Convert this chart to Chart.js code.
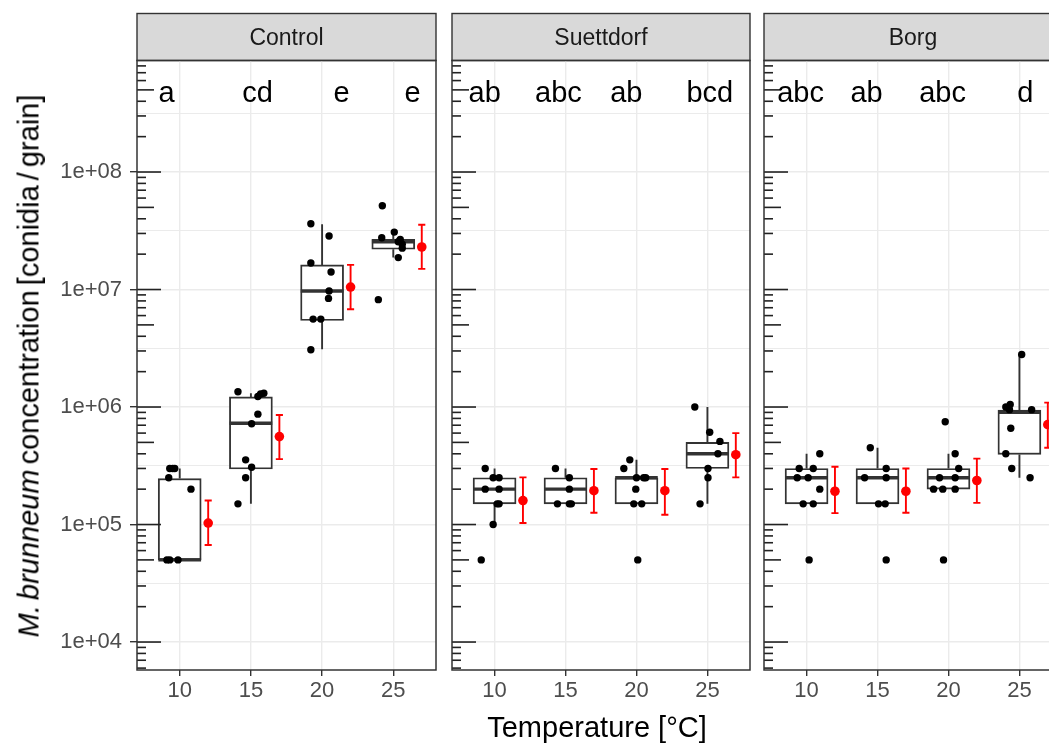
<!DOCTYPE html>
<html>
<head>
<meta charset="utf-8">
<script src="https://cdn.jsdelivr.net/npm/chart.js@4.4.1/dist/chart.umd.min.js"></script>
<style>
  html, body { margin: 0; padding: 0; overflow: hidden; background: #ffffff; width: 1049px; height: 746px; }
  canvas { position: absolute; top: 0; }
  .axtitle { position: absolute; white-space: nowrap; font-family: "Liberation Sans", Arial, sans-serif; font-size: 29px; color: #000; line-height: 1; }
  #ytitle { left: 29px; top: 366px; transform: translate(-50%, -50%) rotate(-90deg); word-spacing: -3px; }
  #xtitle { left: 597px; top: 727px; transform: translate(-50%, -50%); }
</style>
</head>
<body>
<canvas id="c0" width="445" height="746" style="left:0px;width:445px;height:746px"></canvas>
<canvas id="c1" width="315" height="746" style="left:445px;width:315px;height:746px"></canvas>
<canvas id="c2" width="320" height="746" style="left:757px;width:320px;height:746px"></canvas>
<div class="axtitle" id="ytitle"><i>M. brunneum</i> concentration [conidia / grain]</div>
<div class="axtitle" id="xtitle">Temperature [°C]</div>
<script>
// ---------------- DATA ----------------
const panelNames = ['Control', 'Suettdorf', 'Borg'];
const temperatures = [10, 15, 20, 25];
const temperatureLabels = ['10', '15', '20', '25'];
const yBreaks = [1e4, 1e5, 1e6, 1e7, 1e8];
const yBreakLabels = ['1e+04', '1e+05', '1e+06', '1e+07', '1e+08'];

// Control: jittered observations (temperature position, conidia / grain)
const controlObsT = [9.3, 9.5, 9.65, 9.23, 10.79, 9.1, 9.3, 9.88,
  14.09, 15.49, 15.68, 15.91, 15.49, 15.05, 14.63, 15.05, 14.63, 14.09,
  19.21, 20.49, 19.21, 20.63, 20.49, 20.45, 19.37, 19.91, 19.21,
  24.23, 25.07, 24.19, 25.49, 25.35, 25.63, 25.63, 25.35, 23.95];
const controlObsV = [3e5, 3e5, 3e5, 2.5e5, 2e5, 5e4, 5e4, 5e4,
  1.35e6, 1.23e6, 1.29e6, 1.31e6, 8.7e5, 7.2e5, 3.55e5, 3.07e5, 2.5e5, 1.5e5,
  3.63e7, 2.85e7, 1.68e7, 1.41e7, 9.7e6, 8.4e6, 5.6e6, 5.6e6, 3.07e6,
  5.16e7, 3.08e7, 2.76e7, 2.67e7, 2.55e7, 2.43e7, 2.25e7, 1.87e7, 8.2e6];
const controlQ1 = [5e4, 2.97e5, 5.45e6, 2.2e7];
const controlMedian = [5e4, 7.27e5, 9.7e6, 2.55e7];
const controlQ3 = [2.46e5, 1.22e6, 1.62e7, 2.67e7];
const controlWhiskerLow = [5e4, 1.5e5, 3.1e6, 1.87e7];
const controlWhiskerHigh = [3e5, 1.31e6, 3.6e7, 3.08e7];
const controlMean = [1.03e5, 5.6e5, 1.05e7, 2.3e7];
const controlErrLow = [6.7e4, 3.6e5, 6.8e6, 1.5e7];
const controlErrHigh = [1.6e5, 8.55e5, 1.62e7, 3.56e7];
const controlLetters = ['a', 'cd', 'e', 'e'];
const controlLetterT = [9.08, 15.47, 21.36, 26.35];

// Suettdorf
const suettdorfObsT = [9.34, 9.9, 10.32, 9.34, 10.32, 10.18, 10.32, 9.9, 9.06,
  14.29, 15.27, 15.27, 14.43, 15.27, 15.41,
  19.53, 19.11, 20.0, 20.51, 20.65, 19.95, 19.81, 20.37, 20.09,
  24.11, 25.16, 25.88, 25.74, 25.04, 25.04, 24.48];
const suettdorfObsV = [3e5, 2.5e5, 2.5e5, 2e5, 2e5, 1.5e5, 1.5e5, 1e5, 5e4,
  3e5, 2.5e5, 2e5, 1.5e5, 1.5e5, 1.5e5,
  3.55e5, 3e5, 2.5e5, 2.5e5, 2.5e5, 2e5, 1.5e5, 1.5e5, 5e4,
  1e6, 6.1e5, 5.1e5, 4e5, 3e5, 2.5e5, 1.5e5];
const suettdorfQ1 = [1.5e5, 1.5e5, 1.5e5, 3e5];
const suettdorfMedian = [2e5, 2e5, 2.5e5, 4e5];
const suettdorfQ3 = [2.5e5, 2.5e5, 2.5e5, 5e5];
const suettdorfWhiskerLow = [1e5, 1.5e5, 1.5e5, 1.5e5];
const suettdorfWhiskerHigh = [3e5, 3e5, 3.55e5, 1e6];
const suettdorfMean = [1.6e5, 1.94e5, 1.94e5, 3.93e5];
const suettdorfErrLow = [1.03e5, 1.26e5, 1.21e5, 2.52e5];
const suettdorfErrHigh = [2.52e5, 2.97e5, 2.97e5, 6e5];
const suettdorfLetters = ['ab', 'abc', 'ab', 'bcd'];
const suettdorfLetterT = [9.3, 14.5, 19.28, 25.17];

// Borg
const borgObsT = [10.93, 9.48, 10.47, 9.34, 10.11, 10.93, 9.76, 10.47, 10.18,
  14.49, 15.61, 14.09, 15.61, 15.07, 15.54, 15.61,
  19.77, 20.47, 20.72, 19.37, 20.47, 18.95, 19.6, 20.47, 19.65,
  25.16, 24.35, 24.04, 24.3, 25.86, 24.39, 24.04, 24.46, 25.75];
const borgObsV = [4e5, 3e5, 3e5, 2.5e5, 2.5e5, 2e5, 1.5e5, 1.5e5, 5e4,
  4.5e5, 3e5, 2.5e5, 2.5e5, 1.5e5, 1.5e5, 5e4,
  7.5e5, 4e5, 3e5, 2.5e5, 2.5e5, 2e5, 2e5, 2e5, 5e4,
  2.8e6, 1.05e6, 1e6, 9.5e5, 9.5e5, 6.6e5, 4e5, 3e5, 2.5e5];
const borgQ1 = [1.5e5, 1.5e5, 2e5, 3.95e5];
const borgMedian = [2.5e5, 2.5e5, 2.5e5, 9.0e5];
const borgQ3 = [3e5, 3e5, 3e5, 9.4e5];
const borgWhiskerLow = [1.5e5, 1.5e5, 2e5, 2.5e5];
const borgWhiskerHigh = [4e5, 4.5e5, 4e5, 2.8e6];
const borgMean = [1.92e5, 1.92e5, 2.37e5, 7.08e5];
const borgErrLow = [1.25e5, 1.26e5, 1.53e5, 4.5e5];
const borgErrHigh = [3.1e5, 3e5, 3.64e5, 1.09e6];
const borgLetters = ['abc', 'ab', 'abc', 'd'];
const borgLetterT = [9.58, 14.23, 19.58, 25.41];

// ---------------- STYLE / LAYOUT ----------------
const FONT = '"Liberation Sans", Arial, sans-serif';
const Y_MIN = Math.pow(10, 3.762);
const Y_MAX = Math.pow(10, 8.949);
const X_MIN = 7, X_MAX = 28;
const LETTER_Y = 4.6e8;
const BOX_HALF = 1.5;     // temperature units
const BOX_PX = 43;
const MEAN_NUDGE = 2;     // temperature units
const CAP_HALF = 0.25;
const STRIP_TOP = 13.5;
const INK = '#333333';
const GRID = '#EBEBEB';

function isDecade(v) {
  const l = Math.log10(v);
  return Math.abs(l - Math.round(l)) < 1e-6;
}

const facetDecor = {
  id: 'facetDecor',
  beforeDraw(chart, args, opts) {
    const { ctx, chartArea: a } = chart;
    ctx.save();
    ctx.fillStyle = '#D9D9D9';
    ctx.fillRect(a.left, STRIP_TOP, a.right - a.left, a.top - STRIP_TOP);
    ctx.strokeStyle = INK;
    ctx.lineWidth = 1.4;
    ctx.strokeRect(a.left, STRIP_TOP, a.right - a.left, a.top - STRIP_TOP);
    ctx.fillStyle = '#1A1A1A';
    ctx.font = '23px ' + FONT;
    ctx.textAlign = 'center';
    ctx.textBaseline = 'middle';
    ctx.fillText(opts.title, (a.left + a.right) / 2, (STRIP_TOP + a.top) / 2 + 2);
    ctx.restore();
  },
  afterDatasetsDraw(chart, args, opts) {
    const { ctx, chartArea: a } = chart;
    const ys = chart.scales.y, xs = chart.scales.x;
    ctx.save();
    // log ticks inside the left edge
    ctx.strokeStyle = '#222222';
    ctx.lineWidth = 1.6;
    const k0 = Math.floor(Math.log10(ys.min)), k1 = Math.ceil(Math.log10(ys.max));
    for (let k = k0; k <= k1; k++) {
      for (let m = 1; m <= 9; m++) {
        const v = m * Math.pow(10, k);
        if (v < ys.min || v > ys.max) continue;
        const y = ys.getPixelForValue(v);
        const len = m === 1 ? 24 : (m === 5 ? 17 : 9);
        ctx.beginPath();
        ctx.moveTo(a.left, y);
        ctx.lineTo(a.left + len, y);
        ctx.stroke();
      }
    }
    // significance letters
    ctx.fillStyle = '#000';
    ctx.font = '29px ' + FONT;
    ctx.textAlign = 'center';
    ctx.textBaseline = 'middle';
    opts.letters.forEach((s, i) => {
      ctx.fillText(s, xs.getPixelForValue(opts.letterT[i]), ys.getPixelForValue(LETTER_Y));
    });
    // panel border
    ctx.strokeStyle = INK;
    ctx.lineWidth = 1.5;
    ctx.strokeRect(a.left, a.top, a.right - a.left, a.bottom - a.top);
    ctx.restore();
  }
};

function buildPanel(canvasId, name, showY, yWidth, padRight, d) {
  const boxes = temperatures.map((t, i) => ({ x: t, y: [d.q1[i], d.q3[i]] }));
  const whiskers = [];
  const medians = [];
  const errs = [];
  temperatures.forEach((t, i) => {
    whiskers.push({ x: t, y: d.lo[i] }, { x: t, y: d.q1[i] }, { x: t, y: null },
                  { x: t, y: d.q3[i] }, { x: t, y: d.hi[i] }, { x: t, y: null });
    medians.push({ x: t - BOX_HALF, y: d.med[i] }, { x: t + BOX_HALF, y: d.med[i] }, { x: t, y: null });
    const xm = t + MEAN_NUDGE;
    errs.push({ x: xm - CAP_HALF, y: d.eHi[i] }, { x: xm + CAP_HALF, y: d.eHi[i] }, { x: xm, y: null },
              { x: xm, y: d.eHi[i] }, { x: xm, y: d.eLo[i] }, { x: xm, y: null },
              { x: xm - CAP_HALF, y: d.eLo[i] }, { x: xm + CAP_HALF, y: d.eLo[i] }, { x: xm, y: null });
  });
  const obs = d.obsT.map((t, i) => ({ x: t, y: d.obsV[i] }));
  const means = temperatures.map((t, i) => ({ x: t + MEAN_NUDGE, y: d.mean[i] }));

  return new Chart(document.getElementById(canvasId), {
    type: 'scatter',
    data: {
      datasets: [
        { type: 'bar', data: boxes, order: 6, backgroundColor: '#ffffff', borderColor: INK,
          borderWidth: 1.9, borderSkipped: false, barThickness: BOX_PX, grouped: false },
        { type: 'line', data: whiskers, order: 5, borderColor: INK, borderWidth: 1.9,
          pointRadius: 0, spanGaps: false, fill: false, tension: 0 },
        { type: 'line', data: medians, order: 4, borderColor: INK, borderWidth: 3.4,
          pointRadius: 0, spanGaps: false, fill: false, tension: 0 },
        { type: 'scatter', data: obs, order: 3, backgroundColor: '#000000', borderWidth: 0,
          pointRadius: 3.7 },
        { type: 'line', data: errs, order: 2, borderColor: '#FF0000', borderWidth: 1.9,
          pointRadius: 0, spanGaps: false, fill: false, tension: 0 },
        { type: 'scatter', data: means, order: 1, backgroundColor: '#FF0000', borderWidth: 0,
          pointRadius: 4.8 }
      ]
    },
    options: {
      responsive: false,
      animation: false,
      events: [],
      layout: { padding: { top: 60.5, bottom: 46, left: 0, right: padRight }, autoPadding: false },
      plugins: {
        legend: { display: false },
        tooltip: { enabled: false },
        facetDecor: { title: name, letters: d.letters, letterT: d.letterT }
      },
      scales: {
        x: {
          type: 'linear', min: X_MIN, max: X_MAX, offset: false, bounds: 'data',
          afterBuildTicks: s => { s.ticks = temperatures.map(v => ({ value: v })); },
          afterFit: s => { s.height = 30; },
          border: { display: false },
          grid: { color: GRID, lineWidth: 1.4, tickColor: INK, tickLength: 6, tickWidth: 1.4, offset: false },
          ticks: { color: '#4D4D4D', font: { family: FONT, size: 22 }, padding: 2, maxRotation: 0, autoSkip: false,
                   callback: (v, i) => temperatureLabels[i] }
        },
        y: {
          type: 'logarithmic', min: Y_MIN, max: Y_MAX, bounds: 'data',
          afterBuildTicks: s => {
            const t = [];
            yBreaks.forEach(b => { t.push({ value: b }); t.push({ value: b * Math.sqrt(10) }); });
            t.push({ value: yBreaks[0] / Math.sqrt(10) });
            s.ticks = t.filter(o => o.value >= Y_MIN && o.value <= Y_MAX).sort((p, q) => p.value - q.value);
          },
          afterFit: s => { s.width = yWidth; },
          border: { display: false },
          grid: {
            color: GRID,
            lineWidth: c => (c.tick && isDecade(c.tick.value)) ? 1.4 : 1.1,
            drawTicks: showY,
            tickColor: c => (c.tick && isDecade(c.tick.value)) ? INK : 'rgba(0,0,0,0)',
            tickLength: 7, tickWidth: 1.4
          },
          ticks: {
            display: showY, color: '#4D4D4D', font: { family: FONT, size: 22 }, padding: 8, autoSkip: false,
            callback: v => {
              const i = yBreaks.findIndex(b => Math.abs(b - v) / b < 1e-6);
              return i >= 0 ? yBreakLabels[i] : '';
            }
          }
        }
      }
    },
    plugins: [facetDecor]
  });
}

buildPanel('c0', panelNames[0], true, 137, 9, {
  obsT: controlObsT, obsV: controlObsV, q1: controlQ1, med: controlMedian, q3: controlQ3,
  lo: controlWhiskerLow, hi: controlWhiskerHigh, mean: controlMean, eLo: controlErrLow, eHi: controlErrHigh,
  letters: controlLetters, letterT: controlLetterT });
buildPanel('c1', panelNames[1], false, 7, 10, {
  obsT: suettdorfObsT, obsV: suettdorfObsV, q1: suettdorfQ1, med: suettdorfMedian, q3: suettdorfQ3,
  lo: suettdorfWhiskerLow, hi: suettdorfWhiskerHigh, mean: suettdorfMean, eLo: suettdorfErrLow, eHi: suettdorfErrHigh,
  letters: suettdorfLetters, letterT: suettdorfLetterT });
buildPanel('c2', panelNames[2], false, 7, 15, {
  obsT: borgObsT, obsV: borgObsV, q1: borgQ1, med: borgMedian, q3: borgQ3,
  lo: borgWhiskerLow, hi: borgWhiskerHigh, mean: borgMean, eLo: borgErrLow, eHi: borgErrHigh,
  letters: borgLetters, letterT: borgLetterT });
</script>
</body>
</html>
